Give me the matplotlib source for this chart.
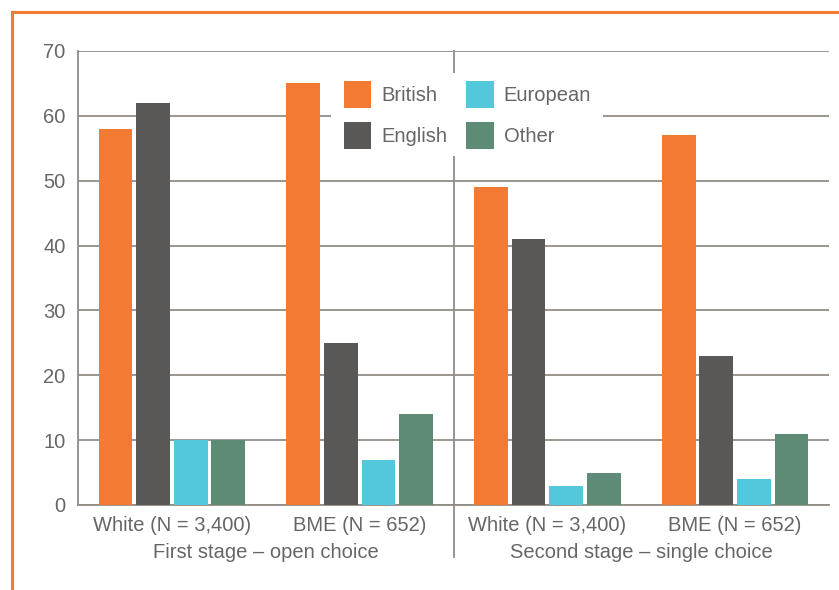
import matplotlib
matplotlib.use("Agg")
import matplotlib.pyplot as plt
from matplotlib.lines import Line2D
from matplotlib.patches import Rectangle
import numpy as np

plt.rcParams['font.family'] = ['Liberation Sans', 'DejaVu Sans']

categories = ["White (N = 3,400)", "BME (N = 652)", "White (N = 3,400)", "BME (N = 652)"]
stages = ["First stage \u2013 open choice", "Second stage \u2013 single choice"]
series = ["British", "English", "European", "Other"]
british = [58, 65, 49, 57]
english = [62, 25, 41, 23]
european = [10, 7, 3, 4]
other = [10, 14, 5, 11]
yticks = [0, 10, 20, 30, 40, 50, 60, 70]

colors = ["#F27A33", "#5A5856", "#53C7DB", "#5E8B75"]
grid_c = "#928C86"
text_c = "#666666"
fs = 14.5

W, H = 839, 590
fig = plt.figure(figsize=(W / 100, H / 100), dpi=100)
ax = fig.add_axes([78/W, 85/H, 751/W, 454/H])

x = np.arange(len(categories)) + 0.5
width = 0.18
step = 0.2
for i, (name, vals) in enumerate(zip(series, [british, english, european, other])):
    ax.bar(x + (i - 1.5) * step, vals, width=width, color=colors[i], label=name, zorder=3)

ax.set_xlim(0, 4)
ax.set_ylim(0, 70)
ax.set_yticks(yticks)
ax.set_xticks(x)
ax.set_xticklabels(categories)
ax.tick_params(axis='both', length=0, labelsize=fs, colors=text_c)
ax.tick_params(axis='y', pad=9)
ax.tick_params(axis='x', pad=8)
ax.yaxis.grid(True, color=grid_c, linewidth=1.3, zorder=0)
for s in ['top', 'right']:
    ax.spines[s].set_visible(False)
for s in ['left', 'bottom']:
    ax.spines[s].set_color(grid_c)
    ax.spines[s].set_linewidth(1.3)

# stage divider running down through the category labels
ax.add_line(Line2D([0.5, 0.5], [1.0, -0.115], transform=ax.transAxes,
                   color=grid_c, linewidth=1.3, clip_on=False, zorder=1))

for xi, label in zip([0.25, 0.75], stages):
    ax.text(xi, -0.084, label, transform=ax.transAxes, ha='center', va='top',
            fontsize=fs, color=text_c)

# white panel behind the legend
ax.add_patch(Rectangle((331/W, 1 - 156/H), 272/W, 83/H, transform=fig.transFigure,
                       facecolor='white', edgecolor='none', zorder=4, clip_on=False))

leg = ax.legend(ncol=2, loc='upper left', bbox_to_anchor=(344/W, 1 - 81/H),
                bbox_transform=fig.transFigure, fontsize=fs, frameon=False,
                handlelength=1.35, handleheight=1.7,
                handletextpad=0.5, columnspacing=0.95, labelspacing=0.7,
                borderpad=0, borderaxespad=0)
leg.set_zorder(5)
for t in leg.get_texts():
    t.set_color(text_c)

# orange frame on top and left edges
fig.add_artist(Line2D([12/W, 1], [1 - 12/H] * 2, transform=fig.transFigure,
                      color="#F27A33", linewidth=2.2))
fig.add_artist(Line2D([12/W] * 2, [0, 1 - 12/H], transform=fig.transFigure,
                      color="#F27A33", linewidth=2.2))

fig.savefig("out.png", dpi=100)
